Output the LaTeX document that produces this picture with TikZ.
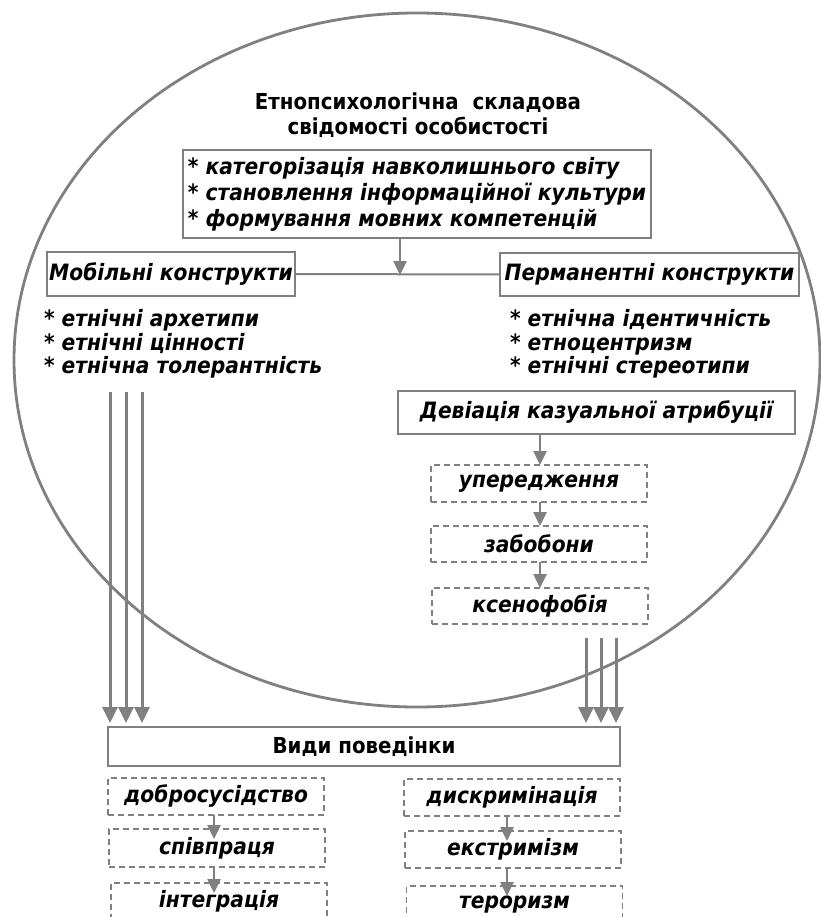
\documentclass[tikz,border=0pt]{standalone}
\usepackage{fontspec}
\setmainfont{DejaVu Sans}[FakeStretch=0.9]
\usetikzlibrary{arrows.meta}
\definecolor{ln}{HTML}{808080}
\newcommand{\bfi}{\bfseries\itshape\fontsize{22.5}{26}\selectfont}
\newcommand{\st}{{\upshape *}}
\begin{document}
\begin{tikzpicture}[x=1pt,y=-1pt,
  every node/.style={inner sep=0pt, outer sep=0pt},
  bx/.style={draw=ln, line width=1.8pt, fill=white, font=\bfi},
  dbx/.style={draw=ln, line width=1.5pt, dash pattern=on 6pt off 4pt, fill=white, font=\bfi, minimum width=216pt, minimum height=37pt},
  ar/.style={draw=ln, line width=3pt, -{Triangle[width=15pt,length=16pt]}},
  sar/.style={draw=ln, line width=2.5pt, -{Triangle[width=13pt,length=14pt]}},
  lst/.style={font=\bfseries\itshape\fontsize{22.5}{23.5}\selectfont, align=left, anchor=west},
]
\useasboundingbox (0,0) rectangle (820,917);
\fill[white] (0,0) rectangle (820,917);
% big ellipse
\draw[ln, line width=2.8pt] (417,360) ellipse [x radius=403, y radius=347];

% title
\node[font=\bfseries\fontsize{22}{25}\selectfont, align=center] (ttl) at (418,115) {Етнопсихологічна\ \ складова\\свідомості особистості};

% categories box
\node[bx, minimum width=468pt, minimum height=88pt, align=left, font=\bfseries\itshape\fontsize{22.5}{26}\selectfont] (cat) at (417,194)
  {\st\ категорізація навколишнього світу\\\st\ становлення інформаційної культури\\\st\ формування мовних компетенцій};

\node[bx, minimum width=248pt, minimum height=44pt] (mob) at (171,274) {Мобільні конструкти};
\node[bx, minimum width=299pt, minimum height=43pt] (perm) at (649.5,274.5) {Перманентні конструкти};

\coordinate (j) at (400,275);
\draw[ln, line width=2pt] (mob.east) -- (perm.west);
\draw[sar] (cat.south -| j) -- (j);

% lists
\node[lst] (ml) at (44,344) {\st\ етнічні архетипи\\\st\ етнічні цінності\\\st\ етнічна толерантність};
\node[lst] (pl) at (510,344) {\st\ етнічна ідентичність\\\st\ етноцентризм\\\st\ етнічні стереотипи};

% deviation
\node[bx, minimum width=397pt, minimum height=43pt] (dev) at (596.5,412.5) {Девіація казуальної атрибуції};
\node[dbx] (upr) at (539,483.5) {упередження};
\node[dbx, minimum height=36pt] (zab) at (539,544) {забобони};
\node[dbx, minimum height=36pt] (ksen) at (540,606) {ксенофобія};
\coordinate (dx) at (540,0);
\draw[sar] (dev.south -| dx) -- (upr.north -| dx);
\draw[sar] (upr.south -| dx) -- (zab.north -| dx);
\draw[sar] (zab.south -| dx) -- (ksen.north -| dx);

% behaviour
\node[bx, minimum width=512pt, minimum height=39pt, font=\bfseries\fontsize{22}{25}\selectfont] (vyd) at (364,746.5) {Види поведінки};

\coordinate (l1) at (110,392);
\coordinate (l2) at (126,392);
\coordinate (l3) at (142,392);
\coordinate (r1) at (586,638);
\coordinate (r2) at (601,638);
\coordinate (r3) at (616,638);
\foreach \c in {l1,l2,l3,r1,r2,r3}{
  \draw[ar, shorten >=4pt] (\c) -- (vyd.north -| \c);
}

\node[dbx] (dob) at (216,796.5) {добросусідство};
\node[dbx, minimum height=38pt] (spi) at (217,848) {співпраця};
\node[dbx] (int) at (219,901.5) {інтеграція};
\node[dbx] (dys) at (512,797.5) {дискримінація};
\node[dbx] (eks) at (513,849.5) {екстримізм};
\node[dbx] (ter) at (514.5,904.5) {тероризм};
\coordinate (bx1) at (214,0);
\coordinate (bx2) at (507,0);
\draw[sar] (dob.south -| bx1) -- ([yshift=-10pt]spi.north -| bx1);
\draw[sar] (spi.south -| bx1) -- ([yshift=-10pt]int.north -| bx1);
\draw[sar] (dys.south -| bx2) -- ([yshift=-10pt]eks.north -| bx2);
\draw[sar] (eks.south -| bx2) -- ([yshift=-10pt]ter.north -| bx2);
\end{tikzpicture}
\end{document}
